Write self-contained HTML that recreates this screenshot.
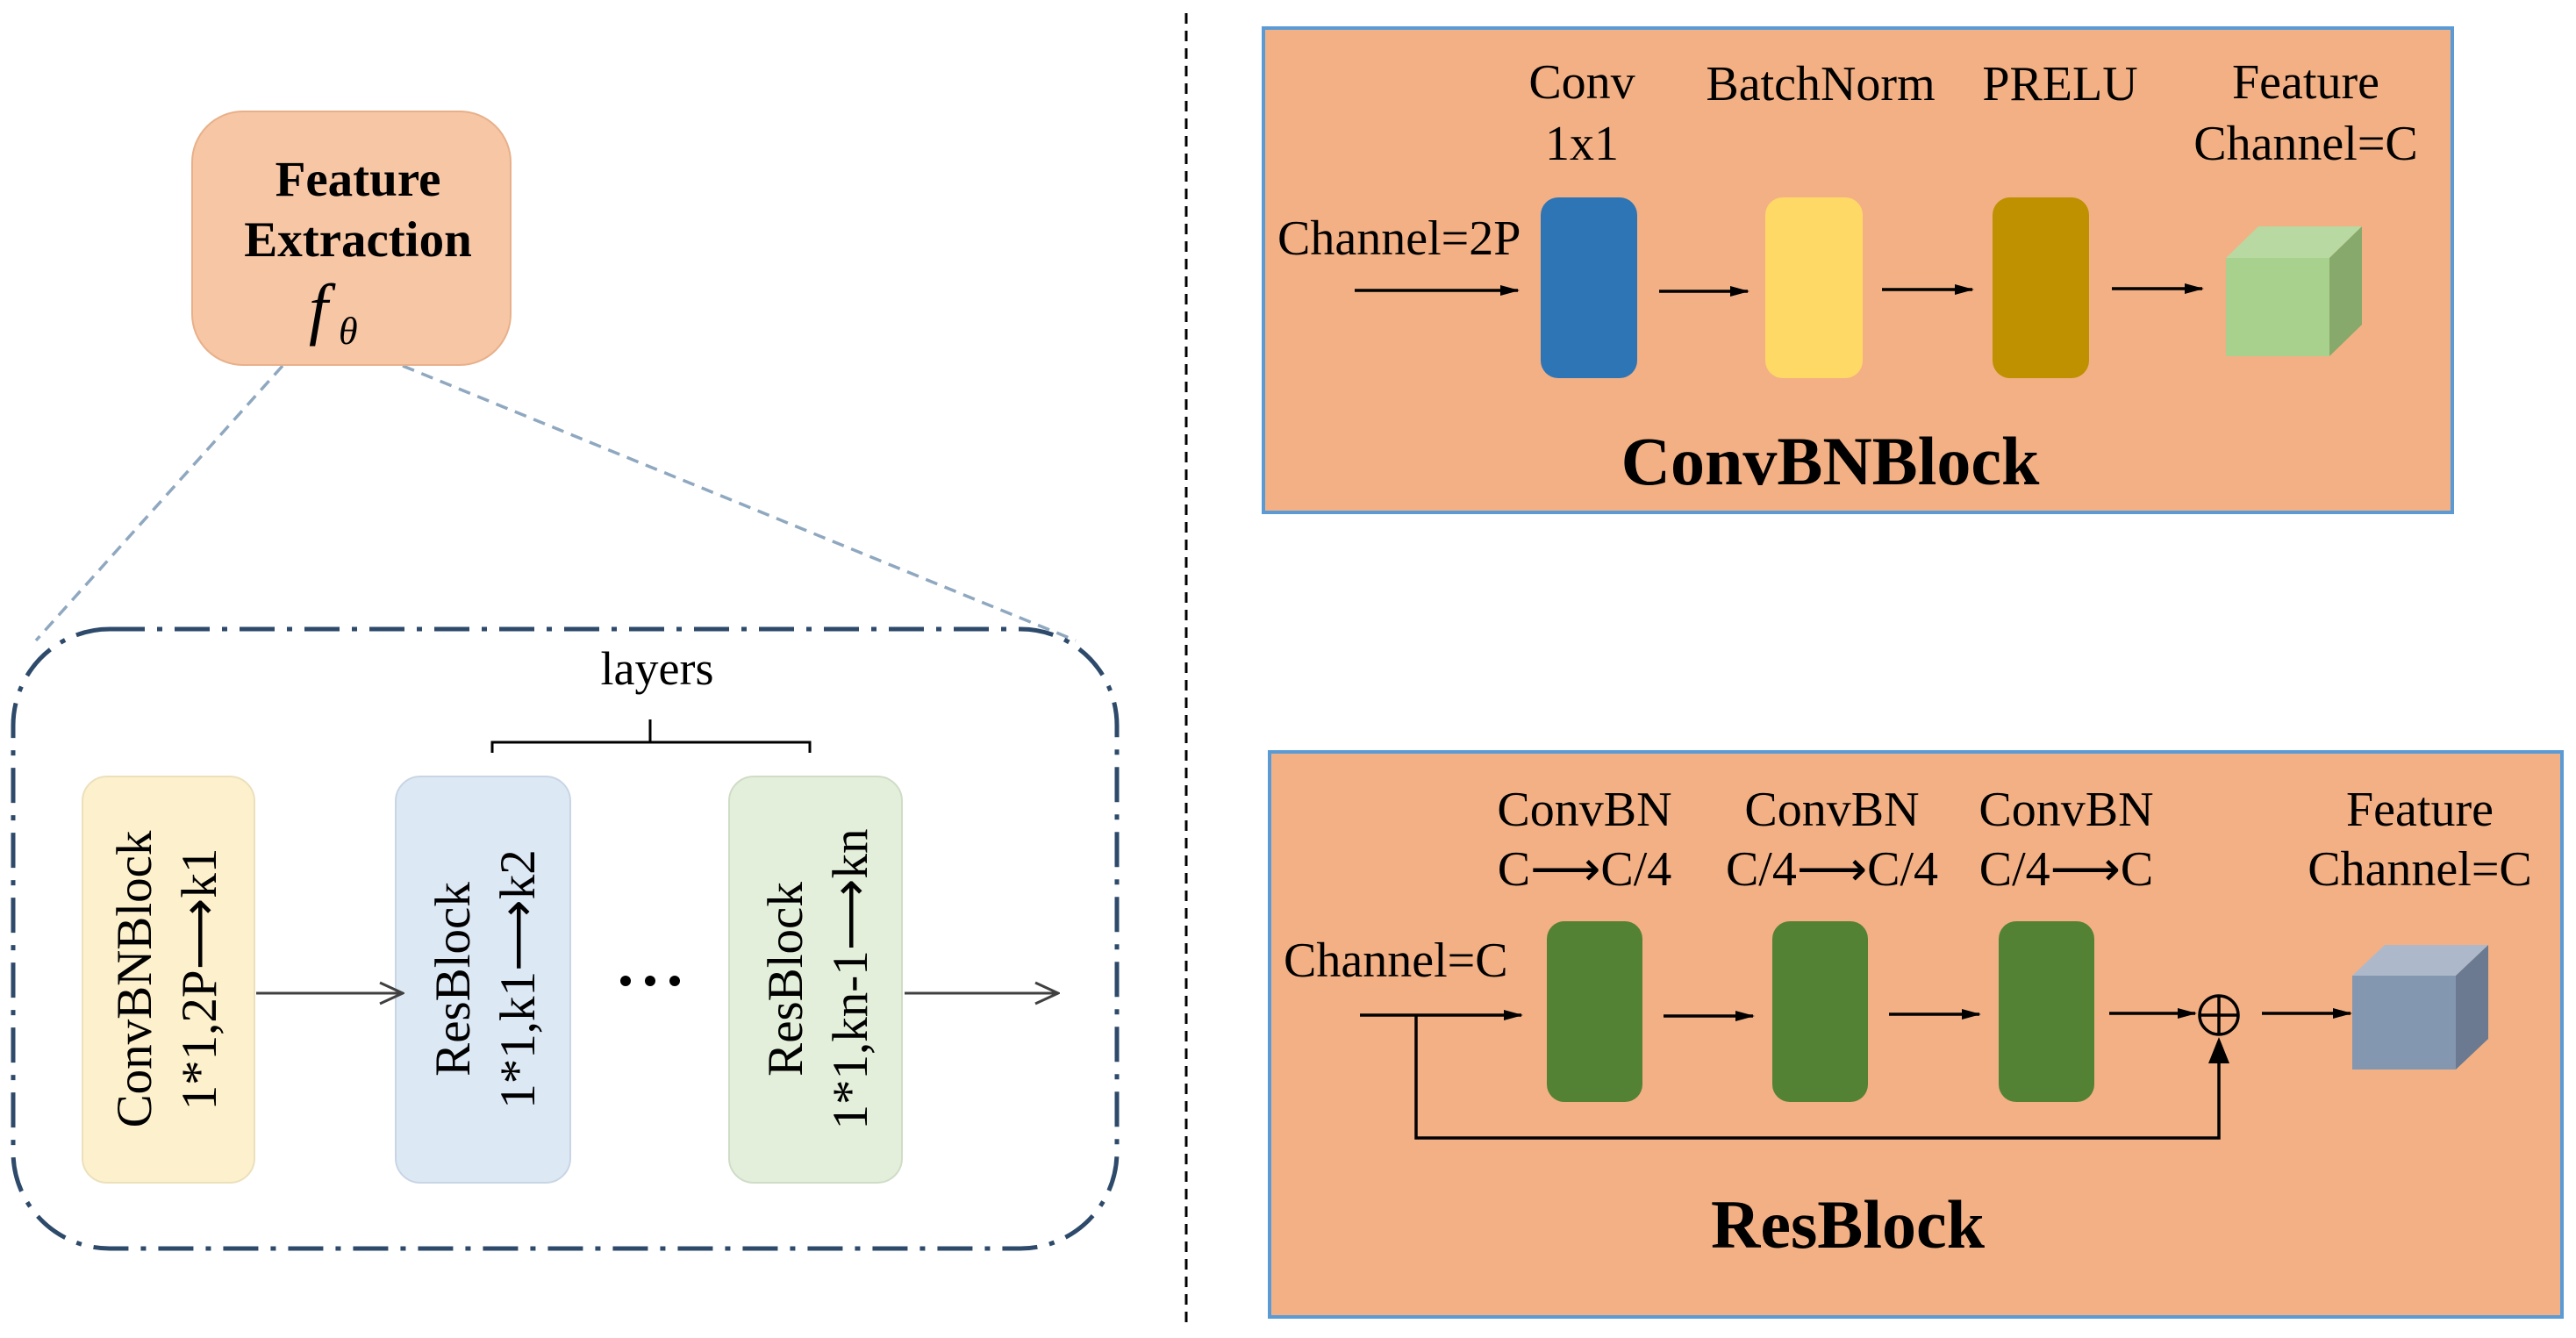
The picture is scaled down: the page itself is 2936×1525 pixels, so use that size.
<!DOCTYPE html>
<html><head><meta charset="utf-8"><style>
html,body{margin:0;padding:0;background:#fff;}
svg{display:block;}
text{font-family:"Liberation Serif",serif;fill:#000;}
</style></head><body>
<svg width="2936" height="1525" viewBox="0 0 2936 1525" xmlns="http://www.w3.org/2000/svg">
<defs>
<marker id="ahb" markerWidth="22" markerHeight="16" refX="20" refY="8" orient="auto" markerUnits="userSpaceOnUse">
<path d="M0,2 L22,8 L0,14 Z" fill="#000"/>
</marker>
<marker id="ao" markerWidth="30" markerHeight="28" refX="28" refY="14" orient="auto" markerUnits="userSpaceOnUse">
<path d="M2,2 L28,14 L2,26" fill="none" stroke="#404040" stroke-width="3"/>
</marker>
</defs>

<line x1="1352" y1="15" x2="1352" y2="1510" stroke="#000" stroke-width="3" stroke-dasharray="12,8"/>

<line x1="322" y1="417" x2="41" y2="730" stroke="#8fa8c0" stroke-width="3.5" stroke-dasharray="14,9"/>
<line x1="459" y1="417" x2="1226" y2="730" stroke="#8fa8c0" stroke-width="3.5" stroke-dasharray="14,9"/>
<rect x="219" y="127" width="363" height="289" rx="58" fill="#f7c6a5" stroke="#e8b08a" stroke-width="2"/>
<text x="408" y="223" font-size="57" font-weight="bold" text-anchor="middle">Feature</text>
<text x="408" y="292" font-size="57" font-weight="bold" text-anchor="middle">Extraction</text>
<text x="352" y="378" font-size="78" font-style="italic">f</text>
<text x="386" y="392" font-size="44" font-style="italic">θ</text>

<rect x="15" y="717" width="1258" height="706" rx="110" fill="none" stroke="#2e4a6b" stroke-width="5" stroke-dasharray="40,14,6,14"/>
<text x="749" y="780" font-size="54" text-anchor="middle">layers</text>
<path d="M561,858 V846 H923 V858" fill="none" stroke="#000" stroke-width="3"/>
<line x1="741" y1="820" x2="741" y2="846" stroke="#000" stroke-width="3"/>

<rect x="94" y="885" width="196" height="463" rx="28" fill="#fdf0cd" stroke="#ece0bb" stroke-width="2"/>
<rect x="451" y="885" width="199" height="463" rx="28" fill="#dde8f5" stroke="#c8d5e4" stroke-width="2"/>
<rect x="831" y="885" width="197" height="463" rx="28" fill="#e3efda" stroke="#cfdcc6" stroke-width="2"/>

<g font-size="57">
<text transform="translate(172,1116) rotate(-90)" text-anchor="middle">ConvBNBlock</text>
<text transform="translate(246,1116) rotate(-90)" text-anchor="middle">1*1,2P⟶k1</text>
<text transform="translate(535,1116) rotate(-90)" text-anchor="middle">ResBlock</text>
<text transform="translate(609,1116) rotate(-90)" text-anchor="middle">1*1,k1⟶k2</text>
<text transform="translate(914,1116) rotate(-90)" text-anchor="middle">ResBlock</text>
<text transform="translate(988,1116) rotate(-90)" text-anchor="middle">1*1,kn-1⟶kn</text>
</g>
<line x1="292" y1="1132" x2="459" y2="1132" stroke="#404040" stroke-width="3" marker-end="url(#ao)"/>
<line x1="1031" y1="1132" x2="1206" y2="1132" stroke="#404040" stroke-width="3" marker-end="url(#ao)"/>
<circle cx="713" cy="1118" r="6" fill="#000"/><circle cx="741" cy="1118" r="6" fill="#000"/><circle cx="769" cy="1118" r="6" fill="#000"/>

<rect x="1440" y="32" width="1355" height="552" fill="#f3b084" stroke="#5b9bd5" stroke-width="4"/>
<g font-size="56" text-anchor="middle">
<text x="1803" y="112">Conv</text>
<text x="1803" y="182">1x1</text>
<text x="2075" y="114">BatchNorm</text>
<text x="2348" y="114">PRELU</text>
<text x="2628" y="112">Feature</text>
<text x="2628" y="182">Channel=C</text>
</g>
<text x="1456" y="290" font-size="56">Channel=2P</text>
<rect x="1756" y="225" width="110" height="206" rx="20" fill="#2e75b6"/>
<rect x="2012" y="225" width="111" height="206" rx="20" fill="#ffd966"/>
<rect x="2271" y="225" width="110" height="206" rx="20" fill="#bf9000"/>
<g stroke="#000" stroke-width="3.5">
<line x1="1544" y1="331" x2="1730" y2="331" marker-end="url(#ahb)"/>
<line x1="1891" y1="332" x2="1992" y2="332" marker-end="url(#ahb)"/>
<line x1="2145" y1="330" x2="2248" y2="330" marker-end="url(#ahb)"/>
<line x1="2407" y1="329" x2="2510" y2="329" marker-end="url(#ahb)"/>
</g>
<polygon points="2537,294 2574,258 2692,258 2655,294" fill="#b8d9a2"/>
<polygon points="2655,294 2692,258 2692,370 2655,406" fill="#87a96b"/>
<rect x="2537" y="294" width="118" height="112" fill="#a9d18e"/>
<text x="2086" y="552" font-size="78" font-weight="bold" text-anchor="middle">ConvBNBlock</text>

<rect x="1447" y="857" width="1473" height="644" fill="#f3b084" stroke="#5b9bd5" stroke-width="4"/>
<g font-size="56" text-anchor="middle">
<text x="1806" y="941">ConvBN</text>
<text x="1806" y="1009">C⟶C/4</text>
<text x="2088" y="941">ConvBN</text>
<text x="2088" y="1009">C/4⟶C/4</text>
<text x="2355" y="941">ConvBN</text>
<text x="2355" y="1009">C/4⟶C</text>
<text x="2758" y="941">Feature</text>
<text x="2758" y="1009">Channel=C</text>
</g>
<text x="1463" y="1113" font-size="56">Channel=C</text>
<rect x="1763" y="1050" width="109" height="206" rx="20" fill="#548235"/>
<rect x="2020" y="1050" width="109" height="206" rx="20" fill="#548235"/>
<rect x="2278" y="1050" width="109" height="206" rx="20" fill="#548235"/>
<g stroke="#000" stroke-width="3.5" fill="none">
<line x1="1550" y1="1157" x2="1734" y2="1157" marker-end="url(#ahb)"/>
<line x1="1896" y1="1158" x2="1998" y2="1158" marker-end="url(#ahb)"/>
<line x1="2153" y1="1156" x2="2256" y2="1156" marker-end="url(#ahb)"/>
<line x1="2404" y1="1155" x2="2502" y2="1155" marker-end="url(#ahb)"/>
<line x1="2578" y1="1155" x2="2679" y2="1155" marker-end="url(#ahb)"/>
<circle cx="2529" cy="1157" r="22"/>
<line x1="2507" y1="1157" x2="2551" y2="1157"/>
<line x1="2529" y1="1135" x2="2529" y2="1179"/>
<path d="M1614,1157 V1297 H2529 V1210"/>
</g>
<polygon points="2529,1182 2517,1212 2541,1212" fill="#000"/>
<polygon points="2681,1112 2718,1077 2836,1077 2799,1112" fill="#adb9ca"/>
<polygon points="2799,1112 2836,1077 2836,1184 2799,1219" fill="#6b7a90"/>
<rect x="2681" y="1112" width="118" height="107" fill="#8497b0"/>
<text x="2106" y="1422" font-size="78" font-weight="bold" text-anchor="middle">ResBlock</text>
</svg>
</body></html>
